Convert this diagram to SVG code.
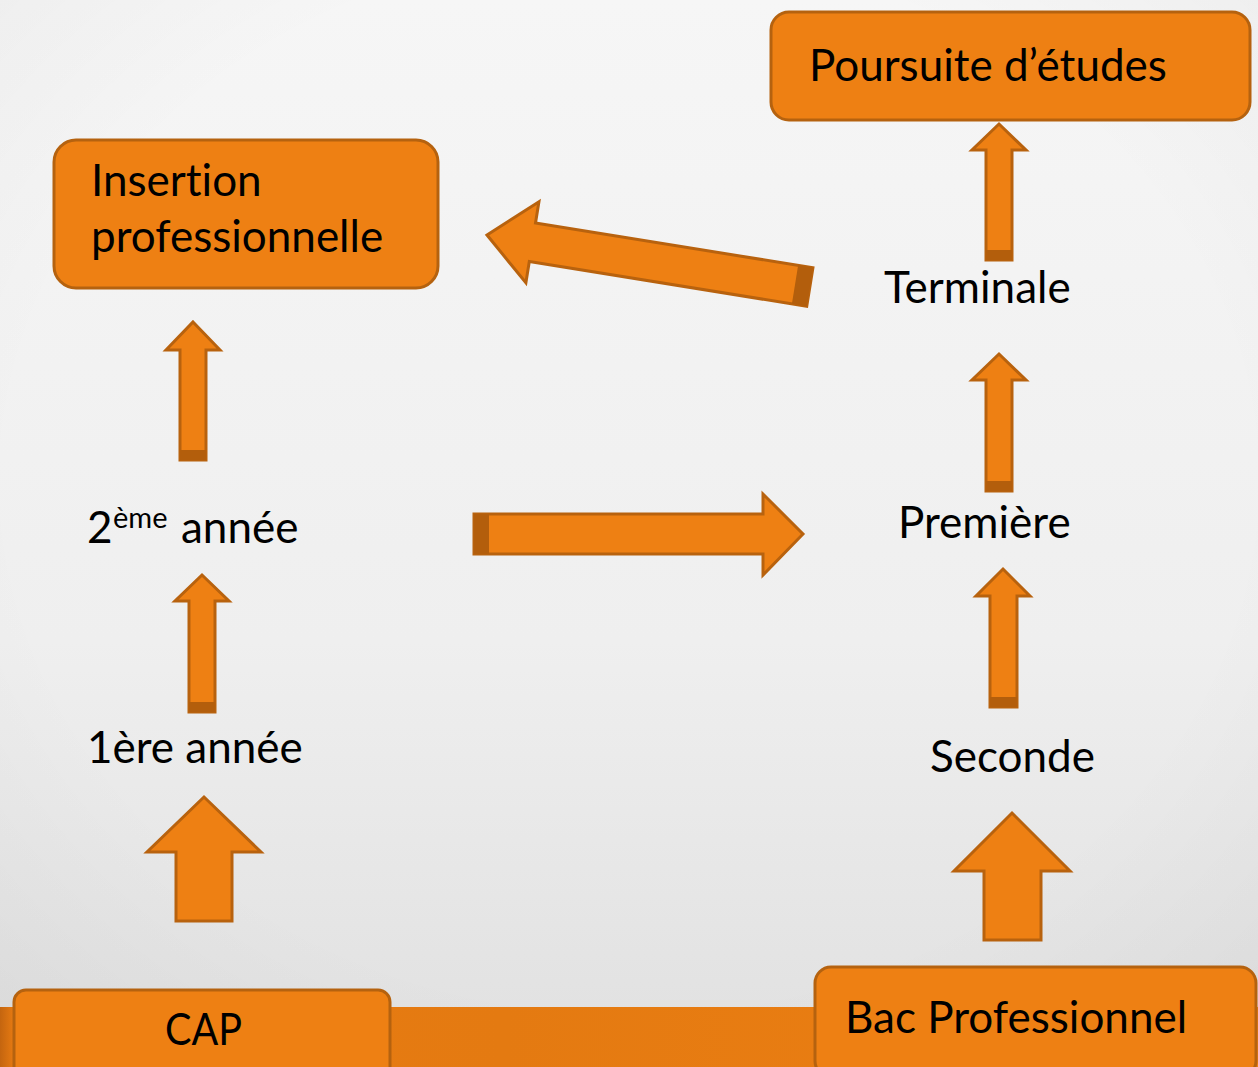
<svg xmlns="http://www.w3.org/2000/svg" width="1258" height="1067" viewBox="0 0 1258 1067">
<defs>
<linearGradient id="bg" x1="0" y1="0" x2="0" y2="1">
<stop offset="0" stop-color="#f6f6f6"/>
<stop offset="0.6" stop-color="#efefef"/>
<stop offset="1" stop-color="#e0e0e0"/>
</linearGradient>
<radialGradient id="vig" cx="0.5" cy="0.45" r="0.75">
<stop offset="0.65" stop-color="#000" stop-opacity="0"/>
<stop offset="1" stop-color="#000" stop-opacity="0.04"/>
</radialGradient>
<linearGradient id="bar" x1="0" y1="0" x2="1" y2="0">
<stop offset="0" stop-color="#c4650f"/>
<stop offset="0.012" stop-color="#e97c12"/>
<stop offset="0.4" stop-color="#e47a11"/>
<stop offset="1" stop-color="#ee8013"/>
</linearGradient>
<style>
.box{fill:#ee8013;stroke:#b5620f;stroke-width:3}
.arr{fill:#ee8013;stroke:#b8620e;stroke-width:3;stroke-linejoin:miter}
.tail{fill:#b35e0c}
.t{font-family:Lato,"Open Sans","Liberation Sans",sans-serif;fill:#000;font-size:44px;font-variant-ligatures:none}
</style>
</defs>
<rect width="1258" height="1067" fill="url(#bg)"/>
<rect width="1258" height="1067" fill="url(#vig)"/>
<rect x="0" y="1007" width="1258" height="60" fill="url(#bar)"/>

<g id="poursuite">
<rect class="box" x="771" y="12" width="479" height="108" rx="18"/>
<text class="t" x="809" y="81">Poursuite d’études</text>
</g>
<g id="insertion">
<rect class="box" x="54" y="140" width="384" height="148" rx="22"/>
<text class="t" x="91" y="196">Insertion</text>
<text class="t" x="91" y="252">professionnelle</text>
</g>
<g id="terminale"><text class="t" x="884" y="303">Terminale</text></g>
<g id="premiere"><text class="t" x="898" y="538">Première</text></g>
<g id="seconde"><text class="t" x="930" y="772">Seconde</text></g>
<g id="deuxieme"><text class="t" x="87" y="543">2<tspan x="113" font-size="29" dy="-15">ème</tspan><tspan x="181" dy="15">année</tspan></text></g>
<g id="premiere-annee"><text class="t" x="87" y="763">1ère année</text></g>
<g id="cap">
<rect class="box" x="14" y="990" width="376" height="90" rx="12"/>
<text class="t" x="165" y="1045" textLength="77" lengthAdjust="spacingAndGlyphs">CAP</text>
</g>
<g id="bacpro">
<rect class="box" x="815" y="967" width="441" height="110" rx="16"/>
<text class="t" x="845" y="1033">Bac Professionnel</text>
</g>

<g id="connectors">
<g>
<polygon class="arr" points="193,322 220,350 206,350 206,460 180,460 180,350 166,350"/>
<rect class="tail" x="180" y="450" width="26" height="10"/>
</g>
<g>
<polygon class="arr" points="202,575 229,601 215,601 215,712 189,712 189,601 175,601"/>
<rect class="tail" x="189" y="702" width="26" height="10"/>
</g>
<g>
<polygon class="arr" points="999,124 1026,150 1012,150 1012,260 986,260 986,150 972,150"/>
<rect class="tail" x="986" y="250" width="26" height="10"/>
</g>
<g>
<polygon class="arr" points="999,354 1026,380 1012,380 1012,491 986,491 986,380 972,380"/>
<rect class="tail" x="986" y="481" width="26" height="10"/>
</g>
<g>
<polygon class="arr" points="1003,569 1030,596 1017,596 1017,707 990,707 990,596 976,596"/>
<rect class="tail" x="990" y="697" width="27" height="10"/>
</g>
<polygon class="arr" points="204,797 261,852 232,852 232,921 176,921 176,852 147,852"/>
<polygon class="arr" points="1012,813 1070,871 1041,871 1041,940 984,940 984,871 954,871"/>
<g>
<polygon class="arr" points="803,534 763,575 763,554 474,554 474,514 763,514 763,494"/>
<rect class="tail" x="474" y="514" width="15" height="40"/>
</g>
<g transform="translate(487,235) rotate(9.15)">
<polygon class="arr" points="0,0 46,-41 46,-19.5 327,-19.5 327,19.5 46,19.5 46,41"/>
<rect class="tail" x="312" y="-19.5" width="15" height="39"/>
</g>
</g>
</svg>
